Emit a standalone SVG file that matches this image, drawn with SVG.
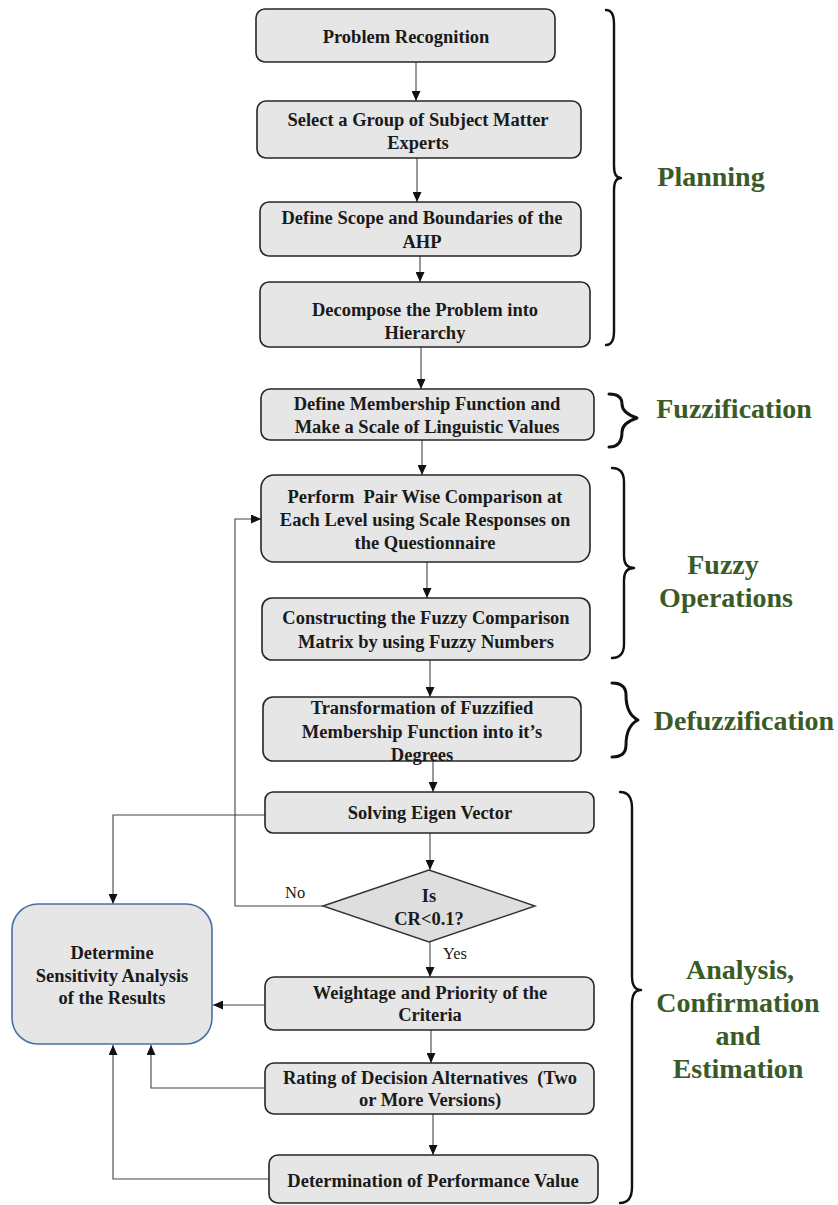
<svg xmlns="http://www.w3.org/2000/svg" width="838" height="1205" viewBox="0 0 838 1205">
<style>
.box{fill:#e6e6e6;stroke:#262626;stroke-width:1.6}
.side{fill:#e6e6e6;stroke:#4a6fa5;stroke-width:1.6}
.dia{fill:#dedede;stroke:#333;stroke-width:1.4}
.t{font-family:"Liberation Serif","Times New Roman",serif;font-weight:bold;font-size:18.5px;fill:#1a1a1a;text-anchor:middle}
.pre{white-space:pre}
.lbl{font-family:"Liberation Serif","Times New Roman",serif;font-size:16.5px;fill:#1a1a1a}
.sec{font-family:"Liberation Serif","Times New Roman",serif;font-weight:bold;font-size:28px;fill:#3a5a27;text-anchor:middle}
.c{fill:none;stroke:#444;stroke-width:1.1}
.br{fill:none;stroke:#111;stroke-width:2.4;stroke-linecap:round;stroke-linejoin:round}
</style>
<defs>
<marker id="ah" markerUnits="userSpaceOnUse" markerWidth="10" markerHeight="9" refX="10" refY="4.5" orient="auto">
<path d="M0,0 L10,4.5 L0,9 z" fill="#111"/>
</marker>
</defs>

<g id="connectors">
<path class="c" d="M416,62 V101" marker-end="url(#ah)"/>
<path class="c" d="M417,158 V202" marker-end="url(#ah)"/>
<path class="c" d="M420,256 V282" marker-end="url(#ah)"/>
<path class="c" d="M421,347 V389" marker-end="url(#ah)"/>
<path class="c" d="M422,440 V475" marker-end="url(#ah)"/>
<path class="c" d="M427,562 V598" marker-end="url(#ah)"/>
<path class="c" d="M430,660 V697" marker-end="url(#ah)"/>
<path class="c" d="M433,761 V792" marker-end="url(#ah)"/>
<path class="c" d="M430,833 V870" marker-end="url(#ah)"/>
<path class="c" d="M430,942 V977" marker-end="url(#ah)"/>
<path class="c" d="M431,1030 V1063" marker-end="url(#ah)"/>
<path class="c" d="M433,1114 V1155" marker-end="url(#ah)"/>
<path class="c" d="M323,906 H235 V519 H261" marker-end="url(#ah)"/>
<path class="c" d="M265,815 H113 V904" marker-end="url(#ah)"/>
<path class="c" d="M265,1005 H213" marker-end="url(#ah)"/>
<path class="c" d="M265,1088 H151 V1045" marker-end="url(#ah)"/>
<path class="c" d="M269,1179 H113 V1045" marker-end="url(#ah)"/>
<text class="lbl" x="285" y="898">No</text>
<text class="lbl" x="443" y="959">Yes</text>
</g>

<g id="n1"><rect class="box" x="256" y="9" width="299" height="53" rx="9"/>
<text class="t" x="406" y="43">Problem Recognition</text></g>

<g id="n2"><rect class="box" x="257" y="101" width="324" height="57" rx="9"/>
<text class="t" x="418" y="126">Select a Group of Subject Matter</text>
<text class="t" x="418" y="149">Experts</text></g>

<g id="n3"><rect class="box" x="260" y="202" width="321" height="54" rx="9"/>
<text class="t" x="422" y="224">Define Scope and Boundaries of the</text>
<text class="t" x="422" y="248">AHP</text></g>

<g id="n4"><rect class="box" x="260" y="282" width="330" height="65" rx="9"/>
<text class="t" x="425" y="316">Decompose the Problem into</text>
<text class="t" x="425" y="339">Hierarchy</text></g>

<g id="n5"><rect class="box" x="261" y="389" width="333" height="51" rx="9"/>
<text class="t" x="427" y="410">Define Membership Function and</text>
<text class="t" x="427" y="433">Make a Scale of Linguistic Values</text></g>

<g id="n6"><rect class="box" x="261" y="475" width="329" height="87" rx="13"/>
<text class="t pre" x="425" y="503" xml:space="preserve">Perform  Pair Wise Comparison at</text>
<text class="t" x="425" y="526">Each Level using Scale Responses on</text>
<text class="t" x="425" y="549">the Questionnaire</text></g>

<g id="n7"><rect class="box" x="262" y="598" width="328" height="62" rx="10"/>
<text class="t" x="426" y="624">Constructing the Fuzzy Comparison</text>
<text class="t" x="426" y="648">Matrix by using Fuzzy Numbers</text></g>

<g id="n8"><rect class="box" x="263" y="697" width="318" height="64" rx="10"/>
<text class="t" x="422" y="714">Transformation of Fuzzified</text>
<text class="t" x="422" y="738">Membership Function into it’s</text>
<text class="t" x="422" y="761">Degrees</text></g>

<g id="n9"><rect class="box" x="265" y="792" width="329" height="41" rx="8"/>
<text class="t" x="430" y="819">Solving Eigen Vector</text></g>

<g id="n10"><polygon class="dia" points="323,906 429,870 535,906 429,942"/>
<text class="t" x="429" y="902">Is</text>
<text class="t" x="429" y="925">CR&lt;0.1?</text></g>

<g id="n11"><rect class="box" x="265" y="977" width="329" height="53" rx="9"/>
<text class="t" x="430" y="999">Weightage and Priority of the</text>
<text class="t" x="430" y="1021">Criteria</text></g>

<g id="n12"><rect class="box" x="265" y="1063" width="329" height="51" rx="9"/>
<text class="t pre" x="430" y="1084" xml:space="preserve">Rating of Decision Alternatives  (Two</text>
<text class="t" x="430" y="1106">or More Versions)</text></g>

<g id="n13"><rect class="box" x="269" y="1155" width="329" height="48" rx="9"/>
<text class="t" x="433" y="1187">Determination of Performance Value</text></g>

<g id="n14"><rect class="side" x="12" y="904" width="200" height="140" rx="26"/>
<text class="t" x="112" y="959">Determine</text>
<text class="t" x="112" y="982">Sensitivity Analysis</text>
<text class="t" x="112" y="1004">of the Results</text></g>

<g id="brace-planning">
<path class="br" d="M606,10 Q614,10 614,24 L614,166 Q614,178 621,178 Q614,178 614,190 L614,331 Q614,345 606,345"/>
<text class="sec" x="711" y="186">Planning</text></g>

<g id="brace-fuzzification">
<path class="br" d="M609,394 Q622,394 622,404 Q622,413 637,418 Q622,423 622,432 Q622,447 609,447" style="stroke-width:3"/>
<text class="sec" x="734" y="418">Fuzzification</text></g>

<g id="brace-fuzzyops">
<path class="br" d="M612,468 Q624,468 624,482 L624,556 Q624,568 634,568 Q624,568 624,580 L624,644 Q624,658 612,658"/>
<text class="sec" x="723" y="574">Fuzzy</text>
<text class="sec" x="726" y="607">Operations</text></g>

<g id="brace-defuzz">
<path class="br" d="M612,683 Q626,683 626,695 Q626,714 638,720 Q626,726 626,745 Q626,757 612,757" style="stroke-width:3"/>
<text class="sec" x="744" y="730">Defuzzification</text></g>

<g id="brace-analysis">
<path class="br" d="M620,792 Q632,792 632,808 L632,976 Q632,990 641,990 Q632,990 632,1004 L632,1187 Q632,1203 620,1203"/>
<text class="sec" x="740" y="979">Analysis,</text>
<text class="sec" x="738" y="1012">Confirmation</text>
<text class="sec" x="738" y="1045">and</text>
<text class="sec" x="738" y="1078">Estimation</text></g>
</svg>
